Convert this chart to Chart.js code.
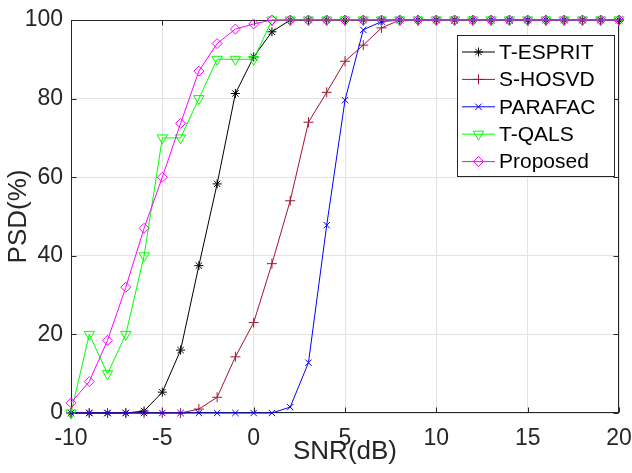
<!DOCTYPE html>
<html>
<head>
<meta charset="utf-8">
<title>PSD vs SNR</title>
<script src="https://cdn.jsdelivr.net/npm/chart.js@4/dist/chart.umd.min.js"></script>
<style>
  html, body { margin: 0; padding: 0; background: #fff; }
  #wrap { width: 632px; height: 473px; position: relative; }
</style>
</head>
<body>
<div id="wrap"><canvas id="psdChart"></canvas></div>
<script>
// ============================================================
// DATA — probability of successful detection (%) per SNR (dB)
// ============================================================
const snrDb = [-10, -9, -8, -7, -6, -5, -4, -3, -2, -1, 0, 1, 2, 3, 4, 5, 6, 7, 8, 9, 10,
               11, 12, 13, 14, 15, 16, 17, 18, 19, 20];

const tEsprit  = [0, 0, 0, 0, 0.5, 5.3, 16, 37.5, 58.3, 81.3, 90.6, 97, 100, 100, 100, 100, 100, 100, 100, 100, 100,
                  100, 100, 100, 100, 100, 100, 100, 100, 100, 100];
const sHosvd   = [0, 0, 0, 0, 0, 0, 0, 1, 4, 14.3, 23, 38, 54, 74, 81.6, 89.5, 93.6, 98, 100, 100, 100,
                  100, 100, 100, 100, 100, 100, 100, 100, 100, 100];
const parafac  = [0, 0, 0, 0, 0, 0, 0, 0, 0, 0, 0, 0, 1.5, 12.8, 47.8, 79.6, 97.5, 99.6, 100, 100, 100,
                  100, 100, 100, 100, 100, 100, 100, 100, 100, 100];
const tQals    = [0, 20, 10, 20, 40, 70, 70, 80, 90, 90, 90, 100, 100, 100, 100, 100, 100, 100, 100, 100, 100,
                  100, 100, 100, 100, 100, 100, 100, 100, 100, 100];
const proposed = [2.6, 8, 18.5, 32, 47, 60, 73.7, 87, 94, 97.7, 99, 100, 100, 100, 100, 100, 100, 100, 100, 100, 100,
                  100, 100, 100, 100, 100, 100, 100, 100, 100, 100];

const xTicks = [-10, -5, 0, 5, 10, 15, 20];
const yTicks = [0, 20, 40, 60, 80, 100];

const FONT = "'Liberation Sans', Arial, Helvetica, sans-serif";
const AXIS_INK = '#262626';

// one series = one line with hollow markers (MATLAB-ish look)
function series(label, values, color, style, radius, rotation, order) {
  return {
    label,
    data: snrDb.map((x, i) => ({ x, y: values[i] })),
    borderColor: color,
    borderWidth: 1,
    pointStyle: style,
    pointRadius: radius,
    pointRotation: rotation,
    pointBorderColor: color,
    pointBackgroundColor: 'rgba(0,0,0,0)',
    pointBorderWidth: 1,
    pointHoverRadius: radius,
    tension: 0,
    clip: false,
    order
  };
}

// ============================================================
// AXES BOX + INWARD TICKS (drawn under the data)
// ============================================================
const boxPlugin = {
  id: 'axesBox',
  beforeDatasetsDraw(chart) {
    const { ctx, chartArea: a, scales } = chart;
    const L = Math.round(a.left) + 0.5, R = Math.round(a.right) - 0.5;
    const T = Math.round(a.top) + 0.5, B = Math.round(a.bottom) - 0.5;
    ctx.save();
    ctx.strokeStyle = AXIS_INK;
    ctx.lineWidth = 1;
    ctx.beginPath();
    xTicks.forEach(v => {
      const px = Math.round(scales.x.getPixelForValue(v)) + 0.5;
      ctx.moveTo(px, B); ctx.lineTo(px, B - 5);
      ctx.moveTo(px, T); ctx.lineTo(px, T + 5);
    });
    yTicks.forEach(v => {
      const py = Math.round(scales.y.getPixelForValue(v)) + 0.5;
      ctx.moveTo(L, py); ctx.lineTo(L + 5, py);
      ctx.moveTo(R, py); ctx.lineTo(R - 5, py);
    });
    ctx.stroke();
    ctx.strokeRect(L, T, R - L, B - T);
    ctx.restore();
  }
};

// ============================================================
// LEGEND — boxed, top-right, line sample with marker
// ============================================================
const legendPlugin = {
  id: 'boxLegend',
  afterDraw(chart) {
    const { ctx } = chart;
    const box = { x: 457.5, y: 35.5, w: 157, h: 141 };
    ctx.save();
    ctx.fillStyle = '#fff';
    ctx.fillRect(box.x, box.y, box.w, box.h);
    ctx.strokeStyle = AXIS_INK;
    ctx.lineWidth = 1;
    ctx.strokeRect(box.x, box.y, box.w, box.h);
    ctx.font = '21px ' + FONT;
    ctx.textBaseline = 'middle';
    chart.data.datasets.forEach((ds, i) => {
      const y = 52 + i * 27.4;
      ctx.strokeStyle = ds.borderColor;
      ctx.beginPath();
      ctx.moveTo(462, y); ctx.lineTo(495, y);
      ctx.stroke();
      ctx.fillStyle = 'rgba(0,0,0,0)';
      Chart.helpers.drawPoint(ctx, {
        pointStyle: ds.pointStyle, rotation: ds.pointRotation,
        radius: ds.pointRadius, borderWidth: 1
      }, 478.5, y);
      ctx.fillStyle = '#000';
      ctx.fillText(ds.label, 499, y + 1);
    });
    ctx.restore();
  }
};

const chart = new Chart(document.getElementById('psdChart'), {
  type: 'line',
  data: {
    datasets: [
      series('T-ESPRIT', tEsprit, '#000000', 'star', 4.5, 0, 5),
      series('S-HOSVD', sHosvd, '#A2142F', 'cross', 5, 0, 4),
      series('PARAFAC', parafac, '#0000FF', 'crossRot', 4.5, 0, 3),
      series('T-QALS', tQals, '#00FF00', 'triangle', 6, 180, 2),
      series('Proposed', proposed, '#FF00FF', 'rectRot', 5, 0, 1)
    ]
  },
  options: {
    responsive: true,
    maintainAspectRatio: false,
    animation: false,
    events: [],
    layout: { padding: { top: 20, right: 13, left: 0, bottom: 0 } },
    plugins: { legend: { display: false }, tooltip: { enabled: false } },
    scales: {
      x: {
        type: 'linear',
        min: -10, max: 20,
        afterFit(scale) { scale.height = 60; scale.paddingLeft = 0; scale.paddingRight = 0; },
        afterBuildTicks(scale) { scale.ticks = xTicks.map(v => ({ value: v })); },
        grid: { color: '#e3e3e3', drawTicks: false },
        border: { display: false },
        ticks: { color: AXIS_INK, padding: 12, maxRotation: 0, font: { family: FONT, size: 23 } },
        title: { display: true, text: 'SNR(dB)', color: AXIS_INK, padding: { top: 0, bottom: 6 },
                 font: { family: FONT, size: 26 } }
      },
      y: {
        min: 0, max: 100,
        afterFit(scale) { scale.width = 71; scale.paddingTop = 0; scale.paddingBottom = 0; },
        afterBuildTicks(scale) { scale.ticks = yTicks.map(v => ({ value: v })); },
        grid: { color: '#e3e3e3', drawTicks: false },
        border: { display: false },
        ticks: { color: AXIS_INK, padding: 8, font: { family: FONT, size: 23 } },
        title: { display: true, text: 'PSD(%)', color: AXIS_INK, padding: { top: 3, bottom: 0 },
                 font: { family: FONT, size: 26 } }
      }
    }
  },
  plugins: [boxPlugin, legendPlugin]
});
</script>
</body>
</html>
